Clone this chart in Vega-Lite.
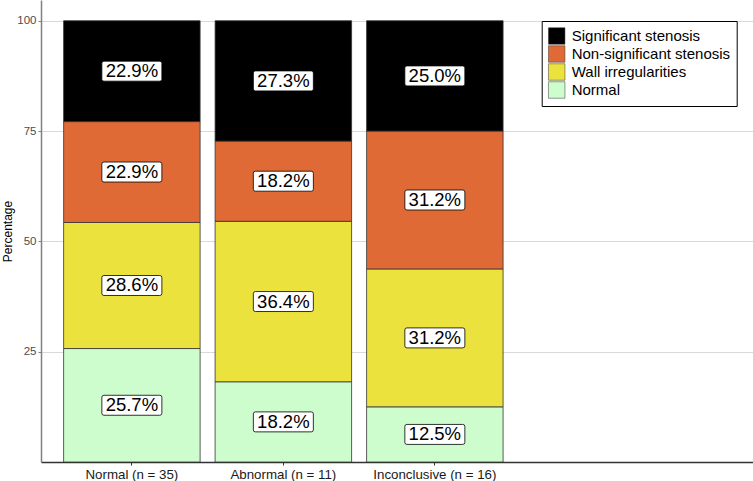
{
  "$schema": "https://vega.github.io/schema/vega-lite/v6.json",
  "width": 712,
  "height": 462,
  "autosize": {"type": "none"},
  "padding": {"left": 41, "top": 0, "right": 0, "bottom": 19},
  "config": {
    "view": {"stroke": null},
    "font": "Liberation Sans"
  },
  "data": {
    "values": [
      {"group": "Normal (n = 35)", "status": "Normal", "ord": 1, "pct": 25.714, "label": "25.7%"},
      {"group": "Normal (n = 35)", "status": "Wall irregularities", "ord": 2, "pct": 28.571, "label": "28.6%"},
      {"group": "Normal (n = 35)", "status": "Non-significant stenosis", "ord": 3, "pct": 22.857, "label": "22.9%"},
      {"group": "Normal (n = 35)", "status": "Significant stenosis", "ord": 4, "pct": 22.857, "label": "22.9%"},
      {"group": "Abnormal (n = 11)", "status": "Normal", "ord": 1, "pct": 18.182, "label": "18.2%"},
      {"group": "Abnormal (n = 11)", "status": "Wall irregularities", "ord": 2, "pct": 36.364, "label": "36.4%"},
      {"group": "Abnormal (n = 11)", "status": "Non-significant stenosis", "ord": 3, "pct": 18.182, "label": "18.2%"},
      {"group": "Abnormal (n = 11)", "status": "Significant stenosis", "ord": 4, "pct": 27.273, "label": "27.3%"},
      {"group": "Inconclusive (n = 16)", "status": "Normal", "ord": 1, "pct": 12.5, "label": "12.5%"},
      {"group": "Inconclusive (n = 16)", "status": "Wall irregularities", "ord": 2, "pct": 31.25, "label": "31.2%"},
      {"group": "Inconclusive (n = 16)", "status": "Non-significant stenosis", "ord": 3, "pct": 31.25, "label": "31.2%"},
      {"group": "Inconclusive (n = 16)", "status": "Significant stenosis", "ord": 4, "pct": 25.0, "label": "25.0%"}
    ]
  },
  "transform": [
    {"stack": "pct", "groupby": ["group"], "sort": [{"field": "ord", "order": "ascending"}], "as": ["y0", "y1"]},
    {"calculate": "(datum.y0 + datum.y1) / 2", "as": "ymid"}
  ],
  "encoding": {
    "x": {
      "field": "group",
      "type": "nominal",
      "sort": ["Normal (n = 35)", "Abnormal (n = 11)", "Inconclusive (n = 16)"],
      "scale": {"paddingInner": 0.099, "paddingOuter": 0.8995, "align": 0.083},
      "axis": {
        "title": null,
        "labelAngle": 0,
        "labelFontSize": 13.3,
        "labelColor": "#1a1a1a",
        "labelPadding": 2,
        "domainColor": "#333333",
        "domainWidth": 1.5,
        "tickColor": "#333333",
        "tickSize": 3,
        "grid": false
      }
    }
  },
  "layer": [
    {
      "mark": {"type": "bar", "stroke": "#333333", "strokeWidth": 0.8},
      "encoding": {
        "y": {
          "field": "y0",
          "type": "quantitative",
          "scale": {"domain": [0, 104.7], "nice": false, "zero": true},
          "axis": {
            "title": "Percentage",
            "titleFontSize": 12,
            "titleFontWeight": "normal",
            "titleColor": "#000000",
            "titlePadding": 2,
            "values": [25, 50, 75, 100],
            "labelFontSize": 11.5,
            "labelColor": "#4d4d4d",
            "labelPadding": 2,
            "tickSize": 3,
            "tickColor": "#808080",
            "domainColor": "#808080",
            "domainWidth": 1.5,
            "grid": true,
            "gridColor": "#d9d9d9",
            "gridWidth": 1
          }
        },
        "y2": {"field": "y1"},
        "color": {
          "field": "status",
          "type": "nominal",
          "scale": {
            "domain": ["Significant stenosis", "Non-significant stenosis", "Wall irregularities", "Normal"],
            "range": ["#000000", "#DF6A35", "#EBE23D", "#CDFDCD"]
          },
          "legend": {
            "title": null,
            "orient": "none",
            "legendX": 500.7,
            "legendY": 21,
            "padding": 6.5,
            "strokeColor": "#000000",
            "fillColor": "#ffffff",
            "symbolType": "square",
            "symbolSize": 272,
            "symbolStrokeColor": "#333333",
            "symbolStrokeWidth": 0.5,
            "symbolOpacity": 1,
            "labelFontSize": 15,
            "labelColor": "#000000",
            "labelOffset": 6.5,
            "rowPadding": -5
          }
        }
      }
    },
    {
      "mark": {
        "type": "point",
        "shape": "M-0.93,-0.333H0.93Q1,-0.333 1,-0.267V0.267Q1,0.333 0.93,0.333H-0.93Q-1,0.333 -1,0.267V-0.267Q-1,-0.333 -0.93,-0.333Z",
        "size": 3600,
        "filled": true,
        "fill": "#ffffff",
        "stroke": "#000000",
        "strokeWidth": 0.8,
        "opacity": 1
      },
      "encoding": {
        "y": {"field": "ymid", "type": "quantitative"}
      }
    },
    {
      "mark": {"type": "text", "fontSize": 18.5, "baseline": "middle", "align": "center", "color": "#000000"},
      "encoding": {
        "y": {"field": "ymid", "type": "quantitative"},
        "text": {"field": "label", "type": "nominal"}
      }
    }
  ]
}
